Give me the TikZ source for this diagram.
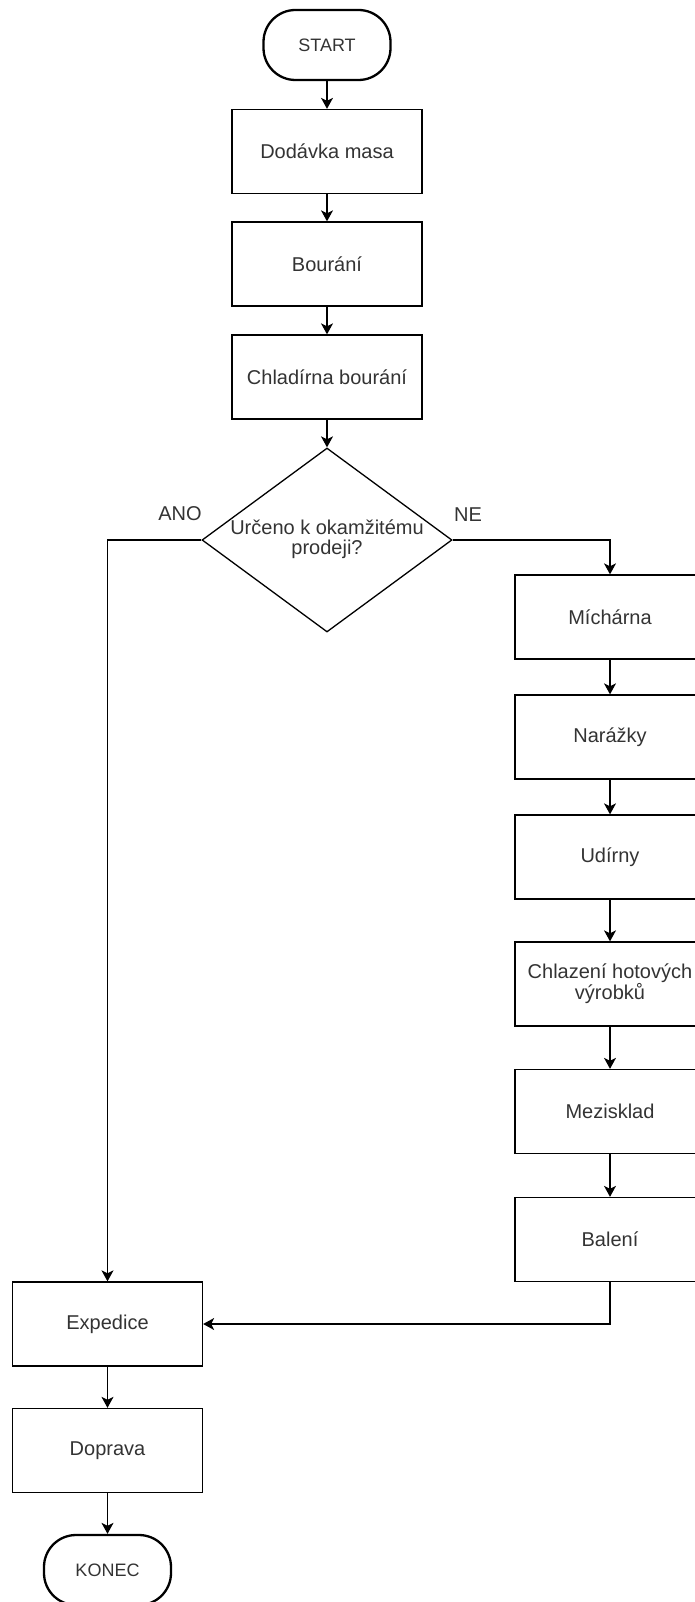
\documentclass[tikz,border=0pt]{standalone}
\usepackage{fontspec}
\setmainfont{Liberation Sans}
\usetikzlibrary{shapes.geometric,arrows.meta}

\begin{document}
\begin{tikzpicture}[x=1pt,y=-1pt,
  every node/.style={font=\fontsize{20}{20}\selectfont, text=black!80},
  procbox/.style={draw=black, line width=1.3pt, minimum width=190pt, minimum height=84pt, inner sep=0pt, align=center},
  termbox/.style={draw=black, line width=2.3pt, rounded corners=32pt, minimum width=127pt, minimum height=70pt, inner sep=0pt, font=\fontsize{18}{18}\selectfont},
  decbox/.style={draw=black, diamond, line width=1.3pt, minimum width=250pt, minimum height=184pt, inner sep=0pt},
  flow/.style={line width=1.3pt, -{Stealth[length=11pt,width=12pt,inset=3pt]}},
  lbl/.style={inner sep=0pt}
]
\useasboundingbox (0,0) rectangle (694,1602);

% main column
\node[termbox] (start) at (327,45) {START};
\node[procbox] (dod)  at (327,151.5) {Dodávka masa};
\node[procbox] (bour) at (327,264) {Bourání};
\node[procbox] (chlb) at (327,377) {Chladírna bourání};

% decision
\node[decbox] (dec) at (327,540) {};
\node[align=center, inner sep=0pt] (dectext) at (327,539) {Určeno k okamžitému\\prodeji?};
\node[lbl] (ano) at (180,514) {ANO};
\node[lbl] (ne)  at (468,515) {NE};

% production branch
\node[procbox] (mich) at (610,617)    {Míchárna};
\node[procbox] (nar)  at (610,737)    {Narážky};
\node[procbox] (udi)  at (610,857)    {Udírny};
\node[procbox] (chlh) at (610,984)    {Chlazení hotových\\výrobků};
\node[procbox] (mezi) at (610,1111.5) {Mezisklad};
\node[procbox] (bal)  at (610,1239.5) {Balení};

% dispatch
\node[procbox] (exp) at (107.5,1324)   {Expedice};
\node[procbox] (dop) at (107.5,1450.5) {Doprava};
\node[termbox] (end) at (107.5,1570)   {KONEC};

% connectors
\draw[flow] (start) -- (dod);
\draw[flow] (dod) -- (bour);
\draw[flow] (bour) -- (chlb);
\draw[flow] (chlb) -- (dec);
\draw[flow] (dec.west) -| (exp.north);
\draw[flow] (dec.east) -| (mich.north);
\draw[flow] (mich) -- (nar);
\draw[flow] (nar) -- (udi);
\draw[flow] (udi) -- (chlh);
\draw[flow] (chlh) -- (mezi);
\draw[flow] (mezi) -- (bal);
\draw[flow] (bal.south) |- (exp.east);
\draw[flow] (exp) -- (dop);
\draw[flow] (dop) -- (end);
\end{tikzpicture}
\end{document}
